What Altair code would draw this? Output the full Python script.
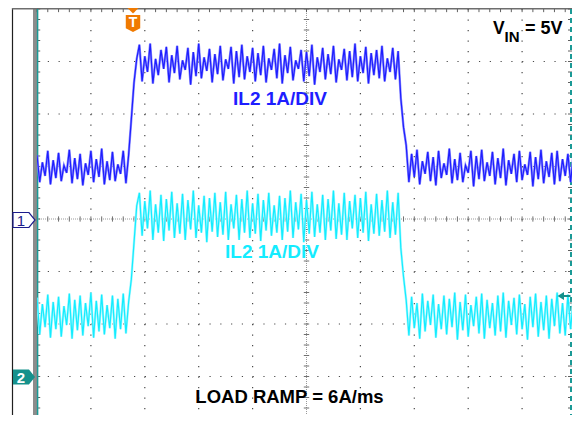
import altair as alt
import pandas as pd

# ---------------- data (divisions, scope screen: x 0..10, y -4..4) ----------------
# Channel 1 (blue) inductor current, sampled every 0.05 div
blue_low_before = [1.22, 0.70, 1.08, 0.82, 1.30, 0.66, 1.12, 0.78, 1.26, 0.72,
                   1.02, 0.88, 1.32, 0.68, 1.16, 0.76, 1.24, 0.64, 1.06, 0.84,
                   1.30, 0.70, 1.14, 0.80, 1.34, 0.66, 1.10, 0.74, 1.28, 0.72,
                   1.04, 0.86, 1.30, 0.68, 1.22]
blue_rise = [1.90, 2.60, 3.05]
blue_high = [3.32, 2.62, 3.10, 2.80, 3.34, 2.58, 3.05, 2.74, 3.22, 2.86,
             3.28, 2.60, 3.12, 2.78, 3.30, 2.66, 3.02, 2.84, 3.26, 2.56,
             3.18, 2.72, 3.34, 2.68, 3.08, 2.82, 3.24, 2.60, 3.14, 2.76,
             3.30, 2.64, 3.04, 2.86, 3.28, 2.58, 3.20, 2.70, 3.32, 2.66,
             3.10, 2.80, 3.26, 2.62, 3.16, 2.74, 3.30, 2.60, 3.06, 2.84,
             3.24, 2.68, 3.34, 2.58, 3.12, 2.78, 3.28, 2.64, 3.02, 2.86,
             3.22, 2.62, 3.18, 2.72, 3.32, 2.56, 3.08, 2.80, 3.26, 2.66,
             3.14, 2.76, 3.30, 2.60, 3.04, 2.84, 3.24, 2.64, 3.20, 2.70,
             3.34, 2.62, 3.10, 2.78, 3.28, 2.58, 3.16, 2.74, 3.22, 2.68,
             3.30, 2.62, 3.06, 2.80, 3.26, 2.66, 3.20]
blue_fall = [2.30, 1.75, 1.40]
blue_low_after = [0.70, 1.24, 0.80, 1.32, 0.66, 1.10, 0.86, 1.28, 0.72, 1.18,
                  0.64, 1.30, 0.78, 1.06, 0.84, 1.34, 0.68, 1.14, 0.74, 1.26,
                  0.70, 1.02, 0.88, 1.30, 0.62, 1.20, 0.76, 1.32, 0.72, 1.08,
                  0.82, 1.28, 0.66, 1.16, 0.78, 1.34, 0.64, 1.12, 0.86, 1.24,
                  0.70, 1.30, 0.74, 1.04, 0.84, 1.28, 0.62, 1.18, 0.76, 1.32,
                  0.68, 1.10, 0.80, 1.26, 0.66, 1.30, 0.72, 1.14, 0.82, 1.24,
                  0.70, 1.20, 0.76]

# Channel 2 (cyan) inductor current
cyan_low_before = [-1.50, -2.20, -1.62, -2.06, -1.44, -2.26, -1.58, -2.10, -1.48, -2.24,
                   -1.66, -2.02, -1.42, -2.28, -1.54, -2.12, -1.46, -2.22, -1.60, -2.04,
                   -1.40, -2.26, -1.56, -2.14, -1.44, -2.20, -1.64, -2.08, -1.46, -2.28,
                   -1.52, -2.10, -1.42, -2.18, -1.58]
cyan_rise = [-1.15, -0.45, 0.25]
cyan_high = [0.50, -0.32, 0.34, -0.18, 0.54, -0.40, 0.28, -0.26, 0.46, -0.42,
             0.38, -0.22, 0.52, -0.36, 0.30, -0.28, 0.48, -0.40, 0.36, -0.20,
             0.54, -0.36, 0.26, -0.26, 0.44, -0.44, 0.40, -0.24, 0.50, -0.34,
             0.32, -0.30, 0.52, -0.40, 0.28, -0.18, 0.46, -0.40, 0.38, -0.26,
             0.54, -0.36, 0.30, -0.28, 0.48, -0.42, 0.36, -0.22, 0.50, -0.32,
             0.26, -0.26, 0.44, -0.40, 0.40, -0.24, 0.54, -0.36, 0.32, -0.20,
             0.48, -0.44, 0.36, -0.28, 0.52, -0.34, 0.28, -0.26, 0.46, -0.40,
             0.38, -0.22, 0.54, -0.38, 0.30, -0.30, 0.50, -0.40, 0.34, -0.18,
             0.46, -0.36, 0.40, -0.26, 0.52, -0.42, 0.28, -0.28, 0.48, -0.32,
             0.36, -0.24, 0.54, -0.36, 0.32, -0.30, 0.50]
cyan_fall = [-0.55, -1.10, -1.55]
cyan_low_after = [-2.22, -1.48, -2.08, -1.60, -2.28, -1.42, -2.14, -1.56, -2.02, -1.44,
                  -2.26, -1.62, -2.10, -1.46, -2.20, -1.52, -2.06, -1.40, -2.30, -1.58,
                  -2.12, -1.44, -2.24, -1.64, -2.04, -1.48, -2.18, -1.42, -2.28, -1.54,
                  -2.08, -1.60, -2.22, -1.46, -2.14, -1.40, -2.26, -1.56, -2.02, -1.50,
                  -2.20, -1.44, -2.10, -1.62, -2.30, -1.48, -2.06, -1.42, -2.24, -1.58,
                  -2.12, -1.46, -2.28, -1.52, -2.04, -1.40, -2.18, -1.60, -2.22, -1.44,
                  -2.10, -1.54, -2.26]

labels_ch1 = "IL2 1A/DIV"
labels_ch2 = "IL2 1A/DIV"
label_ramp = "LOAD RAMP = 6A/ms"

SAMPLE_DIV = 0.05  # time step between samples, in divisions

# ---------------- tables ----------------
ch1 = blue_low_before + blue_rise + blue_high + blue_fall + blue_low_after
ch2 = cyan_low_before + cyan_rise + cyan_high + cyan_fall + cyan_low_after
t = [round(i * SAMPLE_DIV, 3) for i in range(len(ch1))]
traces = pd.DataFrame({"t": t, "ch1": ch1, "ch2": ch2})

PX_DIV_X = 53.9
PX_DIV_Y = 52.5
W, H = 535, 406
X_RIGHT = W / PX_DIV_X        # screen right edge cropped to fit the window
Y_BOTTOM = 4 - H / PX_DIV_Y   # screen bottom cropped to fit the window
XS = alt.Scale(domain=[0, X_RIGHT], nice=False, zero=False)
YS = alt.Scale(domain=[Y_BOTTOM, 4], nice=False, zero=False)


def X(f):
    return alt.X(f, type="quantitative", scale=XS, axis=None)


def Y(f):
    return alt.Y(f, type="quantitative", scale=YS, axis=None)


minor_x = [round(k * 0.2, 2) for k in range(50)]
minor_y = [round(-3.6 + k * 0.2, 2) for k in range(39)]

DOT = "#4a4a4a"

vgrid = alt.Chart(pd.DataFrame({"x": [1, 2, 3, 4, 6, 7, 8, 9]})).mark_rule(
    color=DOT, strokeWidth=1.2, strokeDash=[1.2, 9.3]
).encode(x=X("x"), y=alt.value(0), y2=alt.value(H))

hgrid = alt.Chart(pd.DataFrame({"y": [-3, -2, -1, 1, 2, 3]})).mark_rule(
    color=DOT, strokeWidth=1.2, strokeDash=[1.2, 9.58]
).encode(y=Y("y"), x=alt.value(0), x2=alt.value(W))

hcenter = alt.Chart(pd.DataFrame({"y": [0]})).mark_rule(
    color="#9a9a9a", strokeWidth=1, strokeDash=[1, 1]
).encode(y=Y("y"), x=alt.value(0), x2=alt.value(W))
vcenter = alt.Chart(pd.DataFrame({"x": [5]})).mark_rule(
    color="#9a9a9a", strokeWidth=1, strokeDash=[1, 1]
).encode(x=X("x"), y=alt.value(0), y2=alt.value(H))

hticks = alt.Chart(pd.DataFrame({"x": minor_x, "y0": -0.05, "y1": 0.05})).mark_rule(
    color="#707070", strokeWidth=1
).encode(x=X("x"), y=Y("y0"), y2=alt.Y2("y1"))
vticks = alt.Chart(pd.DataFrame({"y": minor_y, "x0": 4.95, "x1": 5.05})).mark_rule(
    color="#707070", strokeWidth=1
).encode(y=Y("y"), x=X("x0"), x2=alt.X2("x1"))

left_ticks = alt.Chart(pd.DataFrame({"y": minor_y, "x0": 0.0, "x1": 0.06})).mark_rule(
    color="#606060", strokeWidth=1
).encode(y=Y("y"), x=X("x0"), x2=alt.X2("x1"))
right_ticks = alt.Chart(pd.DataFrame({"y": minor_y})).mark_rule(
    color="#606060", strokeWidth=1
).encode(y=Y("y"), x=alt.value(W - 4), x2=alt.value(W))
top_ticks = alt.Chart(pd.DataFrame({"x": minor_x, "y0": 3.94, "y1": 4.0})).mark_rule(
    color="#606060", strokeWidth=1
).encode(x=X("x"), y=Y("y0"), y2=alt.Y2("y1"))

# frame pieces
gray_bar = alt.Chart(pd.DataFrame({"a": [0]})).mark_rect(color="#8c8c8c").encode(
    x=alt.value(-4), x2=alt.value(0), y=alt.value(-1), y2=alt.value(H))
teal_left = alt.Chart(pd.DataFrame({"a": [0]})).mark_rule(color="#1a9a96", strokeWidth=1.5).encode(
    x=alt.value(0.6), y=alt.value(0), y2=alt.value(H))
teal_right = alt.Chart(pd.DataFrame({"a": [0]})).mark_rule(
    color="#1a9a96", strokeWidth=2, strokeDash=[5, 4]).encode(
    x=alt.value(W - 1), y=alt.value(0), y2=alt.value(H))
outer_left = alt.Chart(pd.DataFrame({"a": [0]})).mark_rule(color="#202020", strokeWidth=1.2).encode(
    x=alt.value(-24.5), y=alt.value(-1), y2=alt.value(H))
outer_top = alt.Chart(pd.DataFrame({"a": [0]})).mark_rule(color="#6e6e6e", strokeWidth=2).encode(
    x=alt.value(-25), x2=alt.value(W + 4), y=alt.value(-0.5))

# traces
blue_light = alt.Chart(traces).mark_line(color="#8f8fff", strokeWidth=2.4, clip=True).encode(
    x=X("t"), y=Y("ch1"))
blue_dark = alt.Chart(traces).mark_line(color="#1e1eff", strokeWidth=1.2, clip=True).encode(
    x=X("t"), y=Y("ch1"))
cyan_light = alt.Chart(traces).mark_line(color="#a6f8ff", strokeWidth=2.4, clip=True).encode(
    x=X("t"), y=Y("ch2"))
cyan_dark = alt.Chart(traces).mark_line(color="#14ecff", strokeWidth=1.2, clip=True).encode(
    x=X("t"), y=Y("ch2"))

# channel / trigger markers
ch_shape = "M-1,-0.68 L0.45,-0.68 L1,0 L0.45,0.68 L-1,0.68 Z"
m1 = alt.Chart(pd.DataFrame({"a": [0]})).mark_point(
    shape=ch_shape, size=484, filled=True, fill="white", stroke="#1c1c8c", strokeWidth=1.2, opacity=1
).encode(x=alt.value(-13), y=alt.value(211))
m1t = alt.Chart(pd.DataFrame({"a": ["1"]})).mark_text(
    font="Liberation Sans", fontSize=15, color="#1c1c8c", baseline="middle", align="center"
).encode(x=alt.value(-16), y=alt.value(211.5), text="a:N")
m2 = alt.Chart(pd.DataFrame({"a": [0]})).mark_point(
    shape=ch_shape, size=484, filled=True, fill="#15918c", strokeWidth=0, opacity=1
).encode(x=alt.value(-13), y=alt.value(368))
m2t = alt.Chart(pd.DataFrame({"a": ["2"]})).mark_text(
    font="Liberation Sans", fontSize=15, fontWeight="bold", color="white", baseline="middle", align="center"
).encode(x=alt.value(-16), y=alt.value(368.5), text="a:N")

trig_tri = alt.Chart(pd.DataFrame({"a": [0]})).mark_point(
    shape="M-1,-0.5 L1,-0.5 L0,0.5 Z", size=144, filled=True, fill="#f07a00", strokeWidth=0, opacity=1
).encode(x=alt.value(96), y=alt.value(1.5))
trig_box = alt.Chart(pd.DataFrame({"a": [0]})).mark_point(
    shape="M-0.85,-1 L0.85,-1 L0.85,0.55 L0,1 L-0.85,0.55 Z", size=289, filled=True,
    fill="#f07a00", strokeWidth=0, opacity=1
).encode(x=alt.value(96), y=alt.value(14.5))
trig_t = alt.Chart(pd.DataFrame({"a": ["T"]})).mark_text(
    font="Liberation Sans", fontSize=14, fontWeight="bold", color="white", baseline="middle", align="center"
).encode(x=alt.value(96), y=alt.value(14), text="a:N")

arrow = alt.Chart(pd.DataFrame({"a": [0]})).mark_point(
    shape="M-1,0 L0,-0.6 L0,0.6 Z M0,-0.15 L1,-0.15 L1,0.15 L0,0.15 Z", size=169, filled=True,
    fill="#15918c", strokeWidth=0, opacity=1
).encode(x=alt.value(W - 8), y=alt.value(287))


# labels
def label(txt, x, y, color, size, align="center"):
    return alt.Chart(pd.DataFrame({"s": [txt]})).mark_text(
        font="Liberation Sans", fontSize=size, fontWeight="bold", color=color,
        align=align, baseline="alphabetic"
    ).encode(x=alt.value(x), y=alt.value(y), text="s:N")


lab1 = label(labels_ch1, 243, 96, "#1e1eff", 19)
lab2 = label(labels_ch2, 235, 249, "#14ecff", 19)
lab3 = label(label_ramp, 252.5, 394, "#000000", 18.5)
vin_v = label("V", 456, 25, "#000000", 17.5, "left")
vin_in = label("IN", 467.5, 33, "#000000", 15, "left")
vin_rest = label("= 5V", 488, 25, "#000000", 18, "left")

chart = alt.layer(
    gray_bar, outer_left, outer_top,
    vgrid, hgrid, hcenter, vcenter, hticks, vticks, left_ticks, right_ticks, top_ticks,
    teal_left, teal_right,
    blue_light, blue_dark, cyan_light, cyan_dark,
    m1, m1t, m2, m2t, trig_tri, trig_box, trig_t, arrow,
    lab1, lab2, lab3, vin_v, vin_in, vin_rest,
).properties(
    width=W, height=H, autosize="none",
    padding={"left": 29, "top": 1, "right": 0, "bottom": 0},
    background="white",
).configure_view(stroke=None)

chart.save("out.html", embed_options={"renderer": "svg", "actions": False})
